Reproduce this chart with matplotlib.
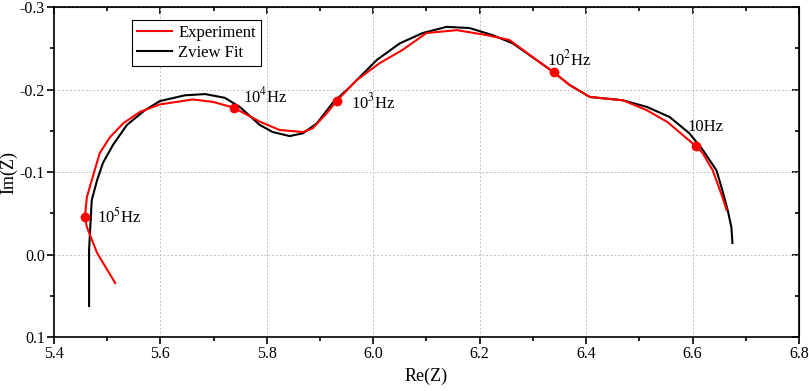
import numpy as np
import matplotlib.pyplot as plt
from matplotlib.ticker import MultipleLocator

plt.rcParams['font.family'] = ['Liberation Serif', 'DejaVu Serif']
plt.rcParams['mathtext.fontset'] = 'stix'

# Experiment (red)
exp_re = [5.515, 5.481, 5.462, 5.458, 5.462, 5.471, 5.486, 5.505, 5.530, 5.562,
          5.599, 5.661, 5.699, 5.738, 5.787, 5.824, 5.868, 5.886, 5.913, 5.931,
          5.969, 6.012, 6.055, 6.100, 6.157, 6.213, 6.256, 6.313, 6.339, 6.369,
          6.407, 6.469, 6.514, 6.553, 6.606, 6.619, 6.638, 6.656, 6.664]
exp_im = [0.0345, -0.002, -0.033, -0.0455, -0.070, -0.090, -0.123, -0.142, -0.159, -0.173,
          -0.182, -0.188, -0.185, -0.178, -0.161, -0.151, -0.1485, -0.153, -0.1715, -0.186,
          -0.2115, -0.232, -0.248, -0.2685, -0.272, -0.266, -0.260, -0.233, -0.221, -0.2055,
          -0.191, -0.187, -0.175, -0.1605, -0.1315, -0.123, -0.102, -0.070, -0.054]

# Zview fit (black)
fit_re = [5.466, 5.466, 5.468, 5.471, 5.481, 5.492, 5.511, 5.537, 5.571, 5.599,
          5.646, 5.684, 5.721, 5.749, 5.787, 5.811, 5.843, 5.868, 5.894, 5.924,
          5.956, 6.007, 6.050, 6.093, 6.138, 6.181, 6.224, 6.262, 6.313, 6.339,
          6.369, 6.407, 6.469, 6.514, 6.557, 6.594, 6.619, 6.645, 6.656, 6.666,
          6.673, 6.675]
fit_im = [0.0624, -0.0055, -0.030, -0.066, -0.090, -0.111, -0.133, -0.157, -0.175, -0.186,
          -0.193, -0.1945, -0.190, -0.179, -0.157, -0.1485, -0.1436, -0.147, -0.159, -0.184,
          -0.203, -0.236, -0.256, -0.2685, -0.276, -0.2745, -0.266, -0.256, -0.233, -0.221,
          -0.2055, -0.191, -0.187, -0.179, -0.1667, -0.147, -0.127, -0.102, -0.078, -0.054,
          -0.033, -0.014]

# frequency markers
freq_re = [5.458, 5.738, 5.931, 6.339, 6.606]
freq_im = [-0.0455, -0.178, -0.186, -0.221, -0.131]
freq_lbl = [r'10$^5$Hz', r'10$^4$Hz', r'10$^3$Hz', r'10$^2$Hz', '10Hz']
lbl_re = [5.481, 5.755, 5.958, 6.326, 6.591]
lbl_im = [-0.0455, -0.192, -0.185, -0.236, -0.155]

fig = plt.figure(figsize=(8.09, 3.91), dpi=100)
ax = fig.add_axes([0.0667, 0.138, 0.9209, 0.844])

ax.plot(exp_re, exp_im, color='red', lw=1.5, label='Experiment', zorder=3)
ax.plot(fit_re, fit_im, color='black', lw=1.5, label='Zview Fit', zorder=2)
ax.plot(freq_re, freq_im, 'o', color='red', ms=6, zorder=4)
for x, y, s in zip(lbl_re, lbl_im, freq_lbl):
    ax.text(x, y, s, fontsize=12, va='center', ha='left')

ax.set_xlim(5.4, 6.8)
ax.set_ylim(0.1, -0.3)
ax.xaxis.set_major_locator(MultipleLocator(0.2))
ax.xaxis.set_minor_locator(MultipleLocator(0.1))
ax.yaxis.set_major_locator(MultipleLocator(0.1))
ax.yaxis.set_minor_locator(MultipleLocator(0.05))
ax.xaxis.set_major_formatter(plt.FormatStrFormatter('%.1f'))
ax.yaxis.set_major_formatter(plt.FormatStrFormatter('%.1f'))
ax.grid(True, which='major', color='#c0c0c0', ls=(0, (2, 2)), lw=0.7)

ax.tick_params(which='both', direction='out', width=1.2, labelsize=11.5,
               top=False, right=False, pad=1.5)
ax.tick_params(which='major', length=5)
ax.tick_params(which='minor', length=3)
for sp in ax.spines.values():
    sp.set_linewidth(1.2)

# inward ticks on the top and right sides
axt = ax.secondary_xaxis('top')
axt.xaxis.set_major_locator(MultipleLocator(0.2))
axt.xaxis.set_minor_locator(MultipleLocator(0.1))
axt.tick_params(which='both', direction='in', labeltop=False, width=1.2)
axt.tick_params(which='major', length=5)
axt.tick_params(which='minor', length=3)
axr = ax.secondary_yaxis('right')
axr.yaxis.set_major_locator(MultipleLocator(0.1))
axr.yaxis.set_minor_locator(MultipleLocator(0.05))
axr.tick_params(which='both', direction='in', labelright=False, width=1.2)
axr.tick_params(which='major', length=5)
axr.tick_params(which='minor', length=3)

ax.set_xlabel('Re(Z)', fontsize=13)
ax.set_ylabel('Im(Z)', fontsize=13)
ax.yaxis.set_label_coords(-0.049, 0.5)

leg = ax.legend(loc='upper left', bbox_to_anchor=(0.093, 0.985), fontsize=12,
                fancybox=False, edgecolor='black', framealpha=1,
                handlelength=2.1, handletextpad=0.4, borderpad=0.3,
                labelspacing=0.2)
leg.get_frame().set_linewidth(0.8)

fig.savefig('out.png', dpi=100)
